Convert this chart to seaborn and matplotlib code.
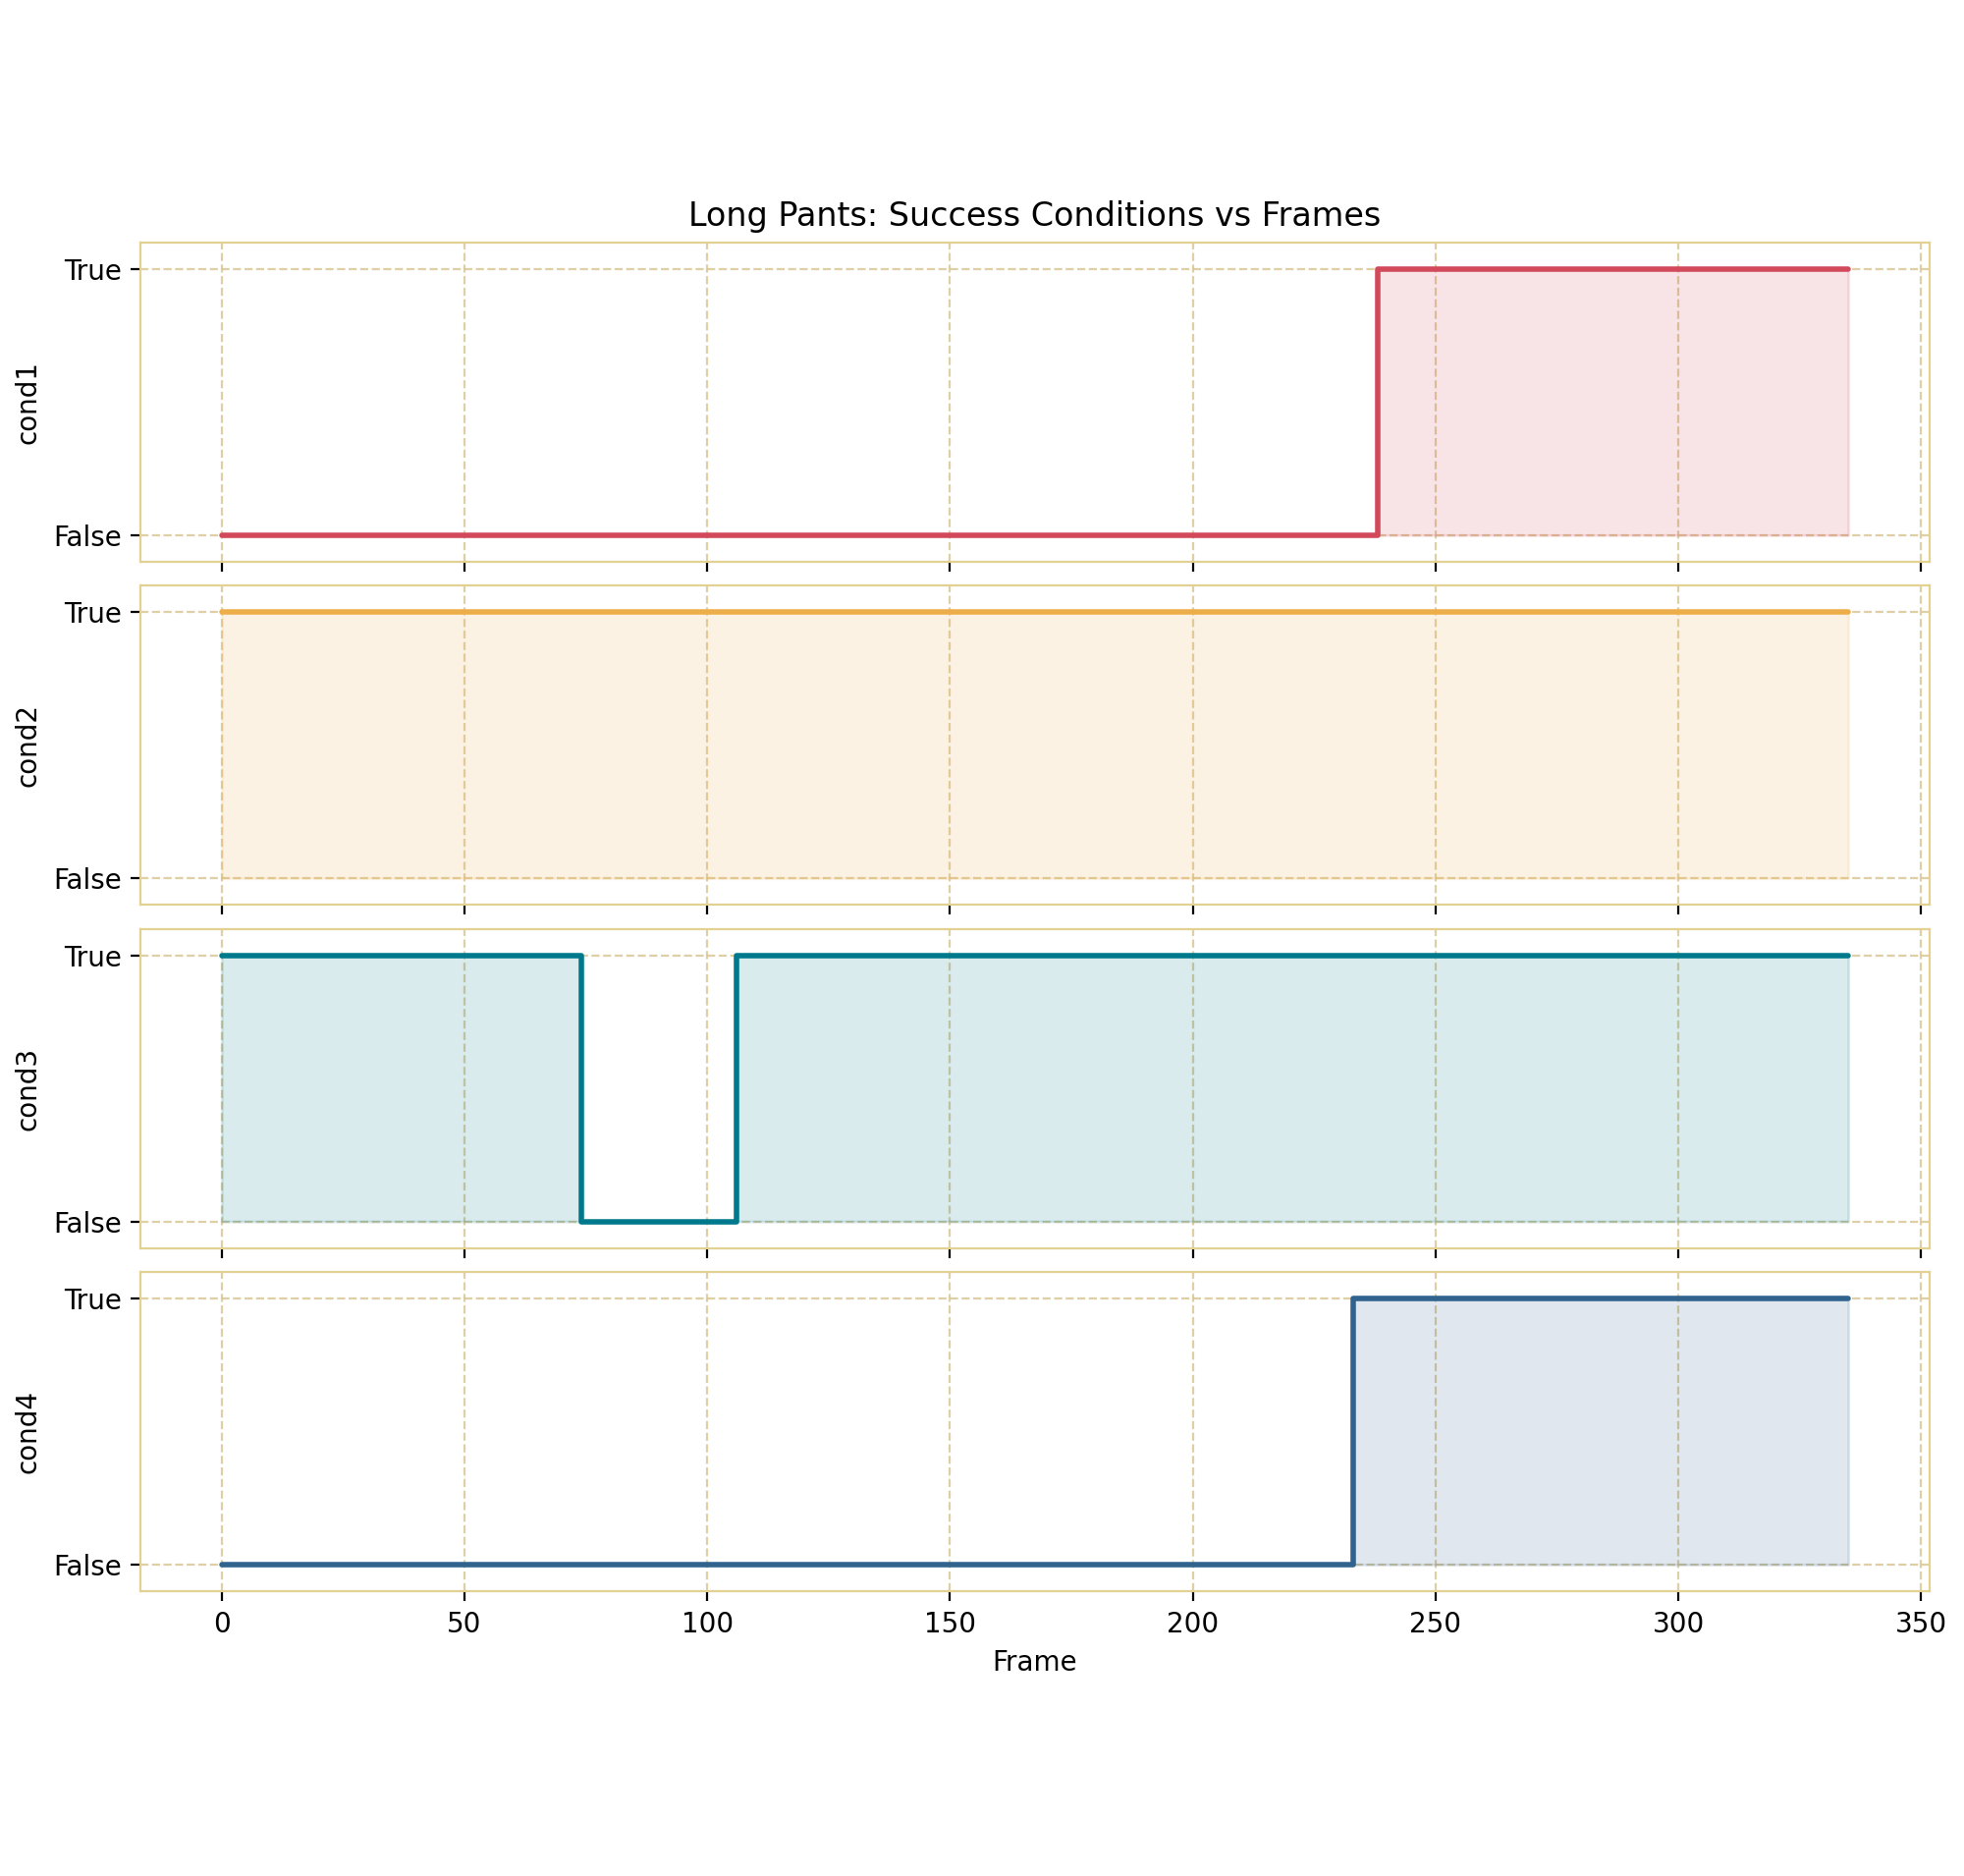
import numpy as np
import pandas as pd
import matplotlib
matplotlib.use("Agg")
import matplotlib.pyplot as plt
import seaborn as sns

# frames 0..335, each condition stored as the frame ranges where it is True
last_frame = 335
cond_names = ["cond1", "cond2", "cond3", "cond4"]
cond1_true = [(238, 335)]
cond2_true = [(0, 335)]
cond3_true = [(0, 73), (106, 335)]
cond4_true = [(233, 335)]
colors = ["#d1495b", "#edae49", "#00798c", "#30638e"]

spine_color = "#e3d192"
grid_color = "#d8c38e"

frames = np.arange(0, last_frame + 1)
df = pd.DataFrame({"Frame": frames})
for name, ranges in zip(cond_names, [cond1_true, cond2_true, cond3_true, cond4_true]):
    vals = np.zeros(len(frames), dtype=int)
    for a, b in ranges:
        vals[(frames >= a) & (frames <= b)] = 1
    df[name] = vals

sns.set_style("white")
plt.rcParams.update({"text.color": "black", "axes.labelcolor": "black",
                     "xtick.color": "black", "ytick.color": "black"})
fig, axes = plt.subplots(4, 1, figsize=(10, 9.55), dpi=200, sharex=True)
fig.subplots_adjust(left=0.0715, right=0.9825, top=0.8707, bottom=0.1518, hspace=0.075)

for ax, name, c in zip(axes, cond_names, colors):
    sns.lineplot(data=df, x="Frame", y=name, ax=ax, color=c, linewidth=2,
                 drawstyle="steps-post", legend=False)
    ax.fill_between(df["Frame"], 0, df[name], step="post", color=c, alpha=0.15)
    ax.set_yticks([0, 1])
    ax.set_yticklabels(["False", "True"])
    ax.set_ylim(-0.1, 1.1)
    ax.set_ylabel(name)
    ax.grid(True, linestyle="--", color=grid_color, alpha=0.8, linewidth=0.8)
    for s in ax.spines.values():
        s.set_color(spine_color)
        s.set_linewidth(0.8)
    ax.tick_params(axis="both", which="major", length=3.5, width=0.8,
                   color="black", bottom=True, left=True, labelsize=10)
    ax.set_xlabel("")

axes[0].set_title("Long Pants: Success Conditions vs Frames", fontsize=12)
axes[-1].set_xlabel("Frame")

fig.savefig("out.png", dpi=200)
